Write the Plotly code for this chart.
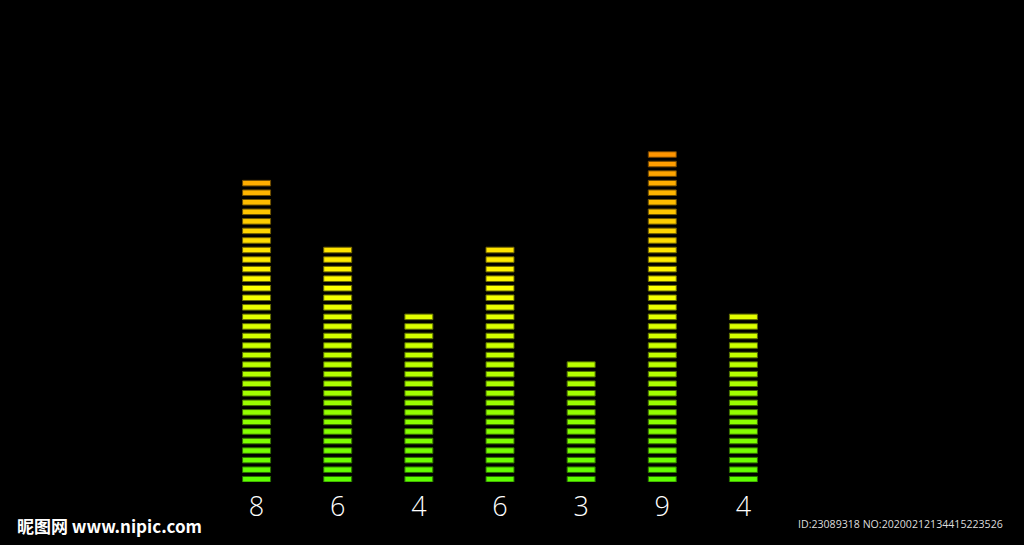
import plotly.graph_objects as go

# Data
labels = ["8", "6", "4", "6", "3", "9", "4"]
segments = [32, 25, 18, 25, 13, 35, 18]   # number of lit segments per bar

SEG_FILL = 0.58  # fraction of each level occupied by a segment

xs, bases, heights, colors, lines = [], [], [], [], []
for i, n in enumerate(segments):
    for k in range(n):
        hue = 98 - 1.85 * k
        xs.append(i)
        bases.append(k)
        heights.append(SEG_FILL)
        colors.append(f"hsl({hue:.1f},100%,50%)")
        lines.append(f"hsl({hue:.1f},100%,22%)")

fig = go.Figure(go.Bar(
    x=xs, y=heights, base=bases,
    width=0.345,
    marker=dict(color=colors, line=dict(color=lines, width=1)),
    hoverinfo="skip",
))

fig.update_layout(
    width=1024, height=545,
    paper_bgcolor="black", plot_bgcolor="black",
    margin=dict(l=216, r=240, t=25, b=63),
    showlegend=False,
    xaxis=dict(range=[-0.5, 6.5], tickvals=list(range(len(labels))), ticktext=labels,
               showgrid=False, zeroline=False, showline=False, ticks="",
               ticklabelstandoff=6,
               tickfont=dict(family="Open Sans", size=27, color="white", weight=300)),
    yaxis=dict(range=[0, 47.85], visible=False, showgrid=False, zeroline=False),
    font=dict(family="Open Sans"),
)

fig.add_annotation(text="昵图网 www.nipic.com", xref="paper", yref="paper",
                   x=(15 - 216) / 568, y=(482 - 525) / 457, xanchor="left", yanchor="middle",
                   showarrow=False,
                   font=dict(family="Noto Sans CJK SC", size=17, color="white", weight="bold"))
fig.add_annotation(text="ID:23089318 NO:20200212134415223526", xref="paper", yref="paper",
                   x=(1005 - 216) / 568, y=(482 - 524) / 457, xanchor="right", yanchor="middle",
                   showarrow=False,
                   font=dict(family="Open Sans", size=10.6, color="#dddddd"))

fig.write_html("out.html",
               config={"displayModeBar": False},
               post_script="document.body.style.margin='0px';document.body.style.overflow='hidden';document.body.style.background='black';")
